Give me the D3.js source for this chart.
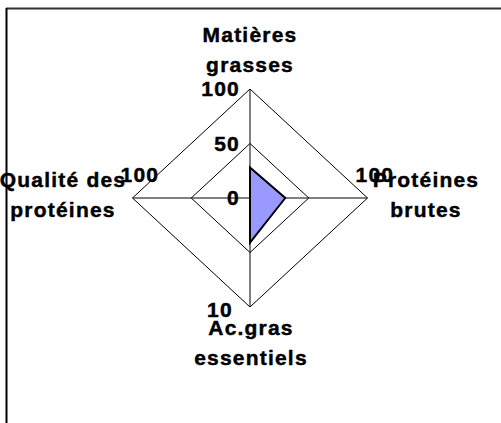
<!DOCTYPE html>
<html>
<head>
<meta charset="utf-8">
<script src="https://cdn.jsdelivr.net/npm/d3@7"></script>
<style>
  body { margin: 0; background: #fff; }
  svg { display: block; }
  text { font-family: "Liberation Sans", Arial, sans-serif; font-weight: bold; font-size: 21px; letter-spacing: 1.2px; fill: #000; stroke: #000; stroke-width: 0.45px; }
</style>
</head>
<body>
<svg id="drawing_region"></svg>
<script>
// axes clockwise from the top
const categories = [["Matières", "grasses"], ["Protéines", "brutes"], ["Ac.gras", "essentiels"], ["Qualité des", "protéines"]];
const values = [28, 30, 41, 0];
const rings = [50, 100];
const tickLabels = ["0", "50", "100"];
const endLabels = ["", "100", "10", "100"];

const width = 501, height = 423;
const cx = 250, cy = 198;

const svg = d3.select('#drawing_region')
    .attr('width', width)
    .attr('height', height);

// frame
svg.append('line').attr('x1', 6).attr('x2', width).attr('y1', 8.5).attr('y2', 8.5)
    .attr('stroke', '#333').attr('stroke-width', 2);
svg.append('line').attr('x1', 6.5).attr('x2', 6.5).attr('y1', 8).attr('y2', height)
    .attr('stroke', '#000').attr('stroke-width', 2);

const rx = d3.scaleLinear().domain([0, 100]).range([0, 117.5]);
const ry = d3.scaleLinear().domain([0, 100]).range([0, 109]);

const dirs = [[0, -1], [1, 0], [0, 1], [-1, 0]];
const pt = (v, i) => [cx + dirs[i][0] * rx(v), cy + dirs[i][1] * ry(v)];

const chart = svg.append('g');

// rings
chart.selectAll('.ring')
    .data(rings)
    .enter()
    .append('polygon')
    .attr('points', r => dirs.map((d, i) => pt(r, i).join(',')).join(' '))
    .attr('fill', 'none')
    .attr('stroke', '#000')
    .attr('stroke-width', 1);

// spokes
chart.selectAll('.spoke')
    .data(dirs)
    .enter()
    .append('line')
    .attr('x1', cx).attr('y1', cy)
    .attr('x2', (d, i) => pt(100, i)[0])
    .attr('y2', (d, i) => pt(100, i)[1])
    .attr('stroke', '#000')
    .attr('stroke-width', 1);

// data
chart.append('polygon')
    .attr('points', values.map((v, i) => pt(v, i).join(',')).join(' '))
    .attr('fill', '#9999ff')
    .attr('stroke', '#000')
    .attr('stroke-width', 2)
    .attr('stroke-linejoin', 'miter');

// value labels on the top axis
chart.selectAll('.tick')
    .data(tickLabels)
    .enter()
    .append('text')
    .attr('x', cx - 10)
    .attr('y', d => cy - ry(+d) + 7)
    .attr('text-anchor', 'end')
    .text(d => d);

// labels at the ends of the other axes
const endOffsets = [[0, 0], [-12, -16], [-43, 10], [-12, -16]];
chart.selectAll('.endlabel')
    .data(endLabels)
    .enter()
    .append('text')
    .attr('x', (d, i) => pt(100, i)[0] + endOffsets[i][0])
    .attr('y', (d, i) => pt(100, i)[1] + endOffsets[i][1])
    .text(d => d);

// category labels
const catPos = [[250, 42], [426, 187], [251, 335], [63, 187]];
const cat = chart.selectAll('.cat')
    .data(categories)
    .enter()
    .append('text')
    .attr('text-anchor', 'middle')
    .attr('transform', (d, i) => `translate(${catPos[i][0]},${catPos[i][1]})`);
cat.selectAll('tspan')
    .data(d => d)
    .enter()
    .append('tspan')
    .attr('x', 0)
    .attr('y', (d, j) => j * 30)
    .text(d => d);
</script>
</body>
</html>
